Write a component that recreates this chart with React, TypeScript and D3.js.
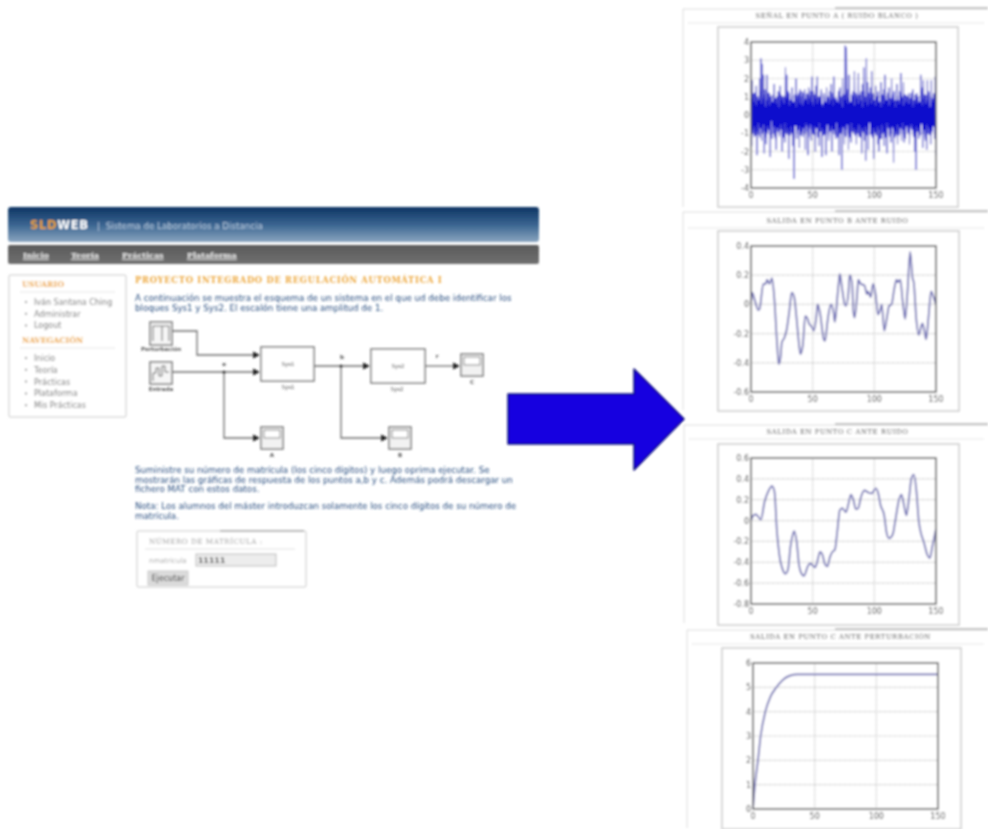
import React from "react";
import * as d3 from "d3";

const noiseA = [0.4,-1.7,1.9,-0.8,1.2,-1.2,0.6,-0.5,1.6,-2.2,0.9,0.2,-1.1,2.0,-0.6,3.1,-1.4,2.8,-0.9,2.2,-2.1,1.4,0.3,-1.6,2.2,-1.0,0.8,-0.3,1.2,-2.3,0.5,1.1,-1.3,0.7,-0.4,1.7,-1.2,0.9,-1.9,1.0,
-0.7,1.3,0.2,-1.2,1.6,-0.8,1.1,-2.0,0.6,-0.2,1.0,-1.5,2.6,-0.9,2.2,-1.1,0.4,-2.4,1.2,-0.5,0.8,-1.0,1.5,-1.7,0.3,-3.5,1.0,-0.6,2.0,-1.3,1.1,-0.4,0.6,-1.8,1.4,0.1,-0.9,1.3,-1.2,0.7,
-0.3,1.4,-1.9,0.9,-0.6,1.2,-2.2,1.5,-0.7,1.1,0.2,-1.4,2.1,-0.8,1.3,-1.1,0.5,-2.0,1.6,-0.4,2.1,-1.2,0.8,-1.7,1.0,-0.2,1.4,-2.3,0.6,-0.9,1.2,-1.1,0.7,-2.2,1.5,-0.5,1.0,-1.4,0.4,1.3,
-0.8,1.7,-2.0,0.9,-0.3,2.1,-1.0,0.6,-1.3,0.8,0.1,-1.1,1.2,-2.2,1.5,-0.6,0.9,-3.0,2.0,-0.7,1.1,-1.6,3.8,-1.2,3.7,-0.4,1.4,-1.9,2.2,-0.8,0.7,-1.5,1.0,-0.2,1.3,-1.0,2.4,-0.9,0.5,-1.6,
1.1,-0.5,2.3,-1.2,0.8,-0.6,1.3,-2.1,1.7,-0.4,2.6,-1.4,1.0,-2.5,3.1,-0.7,1.8,-1.9,0.6,-0.3,1.5,-1.1,2.4,-0.8,1.2,-2.4,0.5,-1.0,1.6,-0.4,0.9,-1.6,1.3,-2.0,0.7,-0.5,1.8,-1.3,1.0,-0.2,
1.4,-1.7,2.2,-0.9,0.6,-2.1,1.1,-0.6,1.5,-1.2,0.3,-1.5,2.0,-0.7,0.9,-2.6,1.2,-0.4,0.8,-1.1,1.7,-1.6,0.4,-1.0,1.3,-0.3,2.3,-1.4,1.0,-0.8,1.8,-1.5,0.6,-1.3,1.1,-0.2,0.7,-1.0,1.2,-1.6,
0.4,-0.7,1.0,-0.4,1.4,-1.2,0.6,-2.0,0.9,-3.0,1.2,-0.6,0.8,-1.3,0.3,-0.9,2.2,-0.5,1.5,-1.8,1.9,-0.7,0.5,-1.4,1.1,-1.9,1.9,-0.6,1.3,-1.1,0.2,-1.6,1.9,-0.8,0.9,-0.4,1.2,-1.3,2.1,-2.2];

const noiseCore = [0.9,-0.8,1.1,-1.0,0.7,-0.6,1.2,-1.1,0.5,-0.9,1.0,-0.4,0.8,-1.2,1.3,-0.7,0.6,-1.0,0.9,-0.5,1.1,-0.9,0.4,-1.2,0.8,-0.6,1.2,-0.8,0.5,-1.1,1.0,-0.3,0.7,-1.0,1.1,-0.6,0.9,-1.3,0.6,-0.7,
1.0,-0.9,0.4,-1.1,1.2,-0.5,0.8,-0.8,1.0,-1.2,0.6,-0.4,1.1,-1.0,0.9,-0.7,1.3,-0.9,0.5,-1.1,0.8,-0.6,1.0,-0.9,0.7,-1.2,1.1,-0.5,0.4,-1.0,0.9,-0.8,1.2,-0.6,0.6,-1.1,1.0,-0.9,0.5,-0.7,
1.2,-1.0,0.8,-0.4,1.1,-0.9,0.6,-1.2,0.9,-0.5,1.3,-0.8,0.7,-1.0,0.5,-0.6,1.1,-1.1,0.9,-0.7,0.6,-1.2,1.0,-0.4,0.8,-0.9,1.2,-0.7,0.4,-1.1,1.0,-0.8,0.7,-1.0,1.1,-0.5,0.9,-1.2,0.6,-0.9,
0.8,-0.6,1.2,-1.0,0.5,-0.8,1.0,-1.1,0.9,-0.4,0.7,-1.2,1.3,-0.7,0.6,-1.0,1.0,-0.9,0.4,-0.6,1.1,-1.1,0.8,-0.8,1.2,-0.5,0.6,-1.0,0.9,-1.2,0.7,-0.4,1.1,-0.9,1.0,-0.7,0.5,-1.1,1.2,-0.8,
0.9,-1.0,0.6,-0.5,1.1,-1.2,0.8,-0.7,0.4,-0.9,1.3,-1.0,0.7,-0.6,1.0,-1.1,0.5,-0.8,1.2,-0.4,0.9,-1.0,0.6,-1.2,1.1,-0.7,0.8,-0.9,0.5,-1.1,1.0,-0.6,1.2,-0.8,0.7,-1.3,0.4,-0.5,1.1,-1.0,
0.6,-0.9,1.0,-1.2,0.8,-0.4,1.2,-0.7,0.5,-1.1,0.9,-1.0,1.1,-0.6,0.7,-0.8,1.3,-1.2,0.4,-0.9,1.0,-0.5,0.8,-1.1,0.6,-0.7,1.2,-1.0,0.9,-0.4,0.5,-1.2,1.1,-0.8,0.7,-0.6,1.0,-0.9,0.6,-1.1,
0.9,-0.5,1.2,-0.8,0.4,-1.0,0.8,-1.2,1.1,-0.6,0.6,-0.9,1.0,-0.7,0.7,-1.1,1.3,-0.4,0.5,-1.0,0.9,-0.8,1.1,-1.2,0.6,-0.5,0.8,-1.0,1.2,-0.7,0.4,-1.1,1.0,-0.9,0.7,-0.6,1.1,-1.0,0.9,-0.8];

const tB = [0,1,3,6,7,10,12,13,15,17,19,21,22.5,24,25,27,29,31,33,35,37,39,40,42,44,46,47,49,51,53,54,56,59,60,62,63,65,67,68,70,71,72,74,76,77,79,80,82,83,84,86,87,89,92,94,95,97,99,101,103,105,106,108,110,112,114,116,118,119,121,123,125,127,129,131,132,134,136,138,139,141,142,144,146,148,150];
const vB = [0,0.08,0.03,-0.04,-0.03,0.14,0.14,0.17,0.14,0.18,0.03,-0.25,-0.41,-0.36,-0.26,-0.23,-0.17,-0.05,0.08,0.05,-0.1,-0.28,-0.34,-0.28,-0.08,-0.1,-0.13,-0.15,-0.18,-0.08,0,-0.06,-0.24,-0.25,-0.12,-0.06,0,-0.06,-0.12,0.05,0.14,0.21,0.1,0,-0.01,0.08,0.2,0.14,-0.05,-0.09,0.06,0.17,0.14,0.13,0.07,0.09,0.05,0.14,0.07,-0.07,-0.03,0,-0.18,-0.1,-0.01,0,0.1,0.17,0.15,0.17,0.02,-0.1,0.1,0.36,0.18,0.15,-0.1,-0.21,-0.15,-0.13,-0.2,-0.24,-0.08,0.09,0.05,0];

const tC = [0,2,4,8,11,14,17,19,21,23,26,28,30,32,34,35,37,39,41,43,46,48,50,52,54,56,58,60,62,64,66,68,70,72,74,77,79,81,83,85,87,89,92,95,98,101,103,105,108,110,112,115,117,120,122,124,126,128,130,132,134,136,138,140,143,145,147,150];
const vC = [0,0.05,0.06,0.01,0.18,0.28,0.33,0.28,-0.1,-0.33,-0.48,-0.51,-0.47,-0.25,-0.13,-0.1,-0.2,-0.43,-0.51,-0.53,-0.44,-0.41,-0.43,-0.45,-0.38,-0.3,-0.33,-0.42,-0.44,-0.35,-0.3,-0.28,-0.1,0.1,0.12,0.08,0.16,0.25,0.2,0.11,0.12,0.22,0.29,0.27,0.26,0.31,0.27,0.15,0.05,-0.12,-0.17,-0.13,0,0.2,0.25,0.15,0.05,0.2,0.4,0.44,0.3,0,-0.13,-0.2,-0.33,-0.36,-0.25,-0.08];

const tD = [0,1.6,4,6.2,10,14,19,24,30,36,50,100,150];
const vD = [0,1,2,3,4,4.6,5,5.3,5.48,5.53,5.53,5.53,5.53];

const xTicks = [0,50,100,150];
const ticksA = [-4,-3,-2,-1,0,1,2,3,4];
const ticksB = [-0.6,-0.4,-0.2,0,0.2,0.4];
const ticksC = [-0.8,-0.6,-0.4,-0.2,0,0.2,0.4,0.6];
const ticksD = [0,1,2,3,4,5,6];

const sideUser = ["Iván Santana Ching","Administrar","Logout"];
const sideNav = ["Inicio","Teoría","Prácticas","Plataforma","Mis Prácticas"];
const navItems: [string, number][] = [["Inicio",23],["Teoría",71],["Prácticas",122],["Plataforma",187]];
const para1 = ["A continuación se muestra el esquema de un sistema en el que ud debe identificar los","bloques Sys1 y Sys2. El escalón tiene una amplitud de 1."];
const para2 = ["Suministre su número de matrícula (los cinco dígitos) y luego oprima ejecutar. Se","mostrarán las gráficas de respuesta de los puntos a,b y c. Además podrá descargar un","fichero MAT con estos datos."];
const para3 = ["Nota: Los alumnos del máster introduzcan solamente los cinco dígitos de su número de","matrícula."];

const sans = "'DejaVu Sans', sans-serif";
const serif = "'DejaVu Serif', serif";
const textBlue = "#2b4f80";

function Plot({ box, plot, title, titleY, ys, core, ts, domain, ticks, color, width, frameX, frameY }: any) {
  const x = d3.scaleLinear().domain([0, 150]).range([plot[0], plot[1]]);
  const y = d3.scaleLinear().domain(domain).range([plot[3], plot[2]]);
  const mk = (n: number) => {
    const l = d3.line<number>().x((_, i) => x(ts ? ts[i] : (i * 150) / (n - 1))).y((d) => y(d));
    if (ts) l.curve(d3.curveMonotoneX);
    return l;
  };
  return (
    <g>
      <path d={`M${frameX} ${frameY + 198}V${frameY}H988`} fill="none" stroke="#dcdcdc" />
      <line x1={835} x2={988} y1={frameY - 1} y2={frameY - 1} stroke="#8c8c8c" />
      <line x1={frameX + 5} x2={984} y1={titleY + 8} y2={titleY + 8} stroke="#dcdcdc" strokeDasharray="2 1" />
      <text x={(box[0] + box[1]) / 2 - 1} y={titleY + 3} textAnchor="middle" fontFamily={serif} fontSize={6.8} letterSpacing={0.6} fill="#6c6c6c">{title}</text>
      <rect x={box[0]} y={box[2]} width={box[1] - box[0]} height={box[3] - box[2]} fill="#fff" stroke="#cccccc" strokeWidth={1.5} />
      {xTicks.map((t) => <line key={t} x1={x(t)} x2={x(t)} y1={plot[2]} y2={plot[3]} stroke="#c8c8c8" strokeWidth={1.2} strokeDasharray="1.5 1" />)}
      {ticks.map((t: number) => <line key={t} x1={plot[0]} x2={plot[1]} y1={y(t)} y2={y(t)} stroke="#c8c8c8" strokeWidth={1.2} strokeDasharray="1.5 1" />)}
      <path d={mk(ys.length)(ys) as string} fill="none" stroke={color} strokeWidth={width} strokeLinejoin="round" />
      {core && <path d={mk(core.length)(core) as string} fill="none" stroke="#0a0acc" strokeWidth={1.2} strokeLinejoin="round" />}
      <rect x={plot[0]} y={plot[2]} width={plot[1] - plot[0]} height={plot[3] - plot[2]} fill="none" stroke="#606060" strokeWidth={1.6} />
      {xTicks.map((t) => <text key={t} x={x(t)} y={plot[3] + 10} textAnchor="middle" fontFamily={sans} fontSize={8} fill="#444">{t}</text>)}
      {ticks.map((t: number) => <text key={t} x={plot[0] - 2} y={y(t) + 3} textAnchor="end" fontFamily={sans} fontSize={8} fill="#444">{t}</text>)}
    </g>
  );
}

function Scope({ x, y, label }: { x: number; y: number; label: string }) {
  return (
    <g>
      <rect x={x} y={y} width={22} height={22} fill="#f2f2f2" stroke="#7b7b7b" strokeWidth={1.5} />
      <rect x={x + 3} y={y + 3} width={16} height={8} fill="#fff" stroke="#8a8a8a" />
      <text x={x + 11} y={y + 30} textAnchor="middle" fontFamily={sans} fontSize={5.5} fontWeight="bold" fill="#555">{label}</text>
    </g>
  );
}

function Wire({ d, tip }: { d: string; tip: [number, number] }) {
  return (
    <g>
      <path d={d} fill="none" stroke="#6e6e6e" strokeWidth={1.3} />
      <path d={`M${tip[0]} ${tip[1]}l-7 -3.5v7z`} fill="#222" />
    </g>
  );
}

export default function App() {
  return (
    <svg width={988} height={829} style={{ position: "absolute", left: 0, top: 0, background: "#fff" }}>
      <defs>
        <filter id="soft" filterUnits="userSpaceOnUse" x="0" y="0" width="988" height="829"><feGaussianBlur stdDeviation={0.8} /></filter>
        <linearGradient id="hdr" x1="0" y1="0" x2="0" y2="1">
          <stop offset="0" stopColor="#0c3563" /><stop offset="0.5" stopColor="#3a6490" /><stop offset="1" stopColor="#8aa5bf" />
        </linearGradient>
        <linearGradient id="nav" x1="0" y1="0" x2="0" y2="1">
          <stop offset="0" stopColor="#5a5a5a" /><stop offset="1" stopColor="#707070" />
        </linearGradient>
      </defs>

      <g filter="url(#soft)">
        {/* header */}
        <rect x={8} y={207} width={531} height={35} rx={3} fill="url(#hdr)" />
        <text x={30} y={229} fontFamily={sans} fontSize={11.5} fontWeight="bold" letterSpacing={0.7}>
          <tspan fill="#e8a030">SLD</tspan><tspan fill="#fff">WEB</tspan>
        </text>
        <text x={97} y={229} fontFamily={sans} fontSize={8.7} fill="#b8cce0">| <tspan dx={3}>Sistema de Laboratorios a Distancia</tspan></text>
        <rect x={8} y={245} width={531} height={19} rx={2} fill="url(#nav)" />
        {navItems.map(([t, x]) => (
          <text key={t} x={x} y={258} fontFamily={serif} fontSize={8} fontWeight="bold" fill="#eee" textDecoration="underline">{t}</text>
        ))}

        {/* sidebar */}
        <rect x={9} y={275} width={117} height={142} rx={2} fill="#fff" stroke="#dcdcdc" strokeWidth={1.5} />
        <text x={22} y={287} fontFamily={serif} fontSize={7.8} fontWeight="bold" fill="#eda63a">USUARIO</text>
        <line x1={20} x2={115} y1={292} y2={292} stroke="#e6e6e6" />
        {sideUser.map((t, i) => (
          <g key={t}>
            <circle cx={26} cy={302 + i * 11.7} r={1} fill="#777" />
            <text x={34} y={305 + i * 11.7} fontFamily={sans} fontSize={8} fill="#777">{t}</text>
          </g>
        ))}
        <text x={22} y={343} fontFamily={serif} fontSize={7.8} fontWeight="bold" fill="#eda63a">NAVEGACIÓN</text>
        <line x1={20} x2={115} y1={348} y2={348} stroke="#e6e6e6" />
        {sideNav.map((t, i) => (
          <g key={t}>
            <circle cx={26} cy={358 + i * 11.8} r={1} fill="#777" />
            <text x={34} y={361 + i * 11.8} fontFamily={sans} fontSize={8} fill="#777">{t}</text>
          </g>
        ))}

        {/* main text */}
        <text x={135} y={283} fontFamily={serif} fontSize={8.3} fontWeight="bold" letterSpacing={0.75} fill="#eda63a">PROYECTO INTEGRADO DE REGULACIÓN AUTOMÁTICA I</text>
        {para1.map((t, i) => <text key={i} x={135} y={301 + i * 9.5} fontFamily={sans} fontSize={8.7} fill={textBlue}>{t}</text>)}
        {para2.map((t, i) => <text key={i} x={135} y={473 + i * 9.7} fontFamily={sans} fontSize={8.7} fill={textBlue}>{t}</text>)}
        {para3.map((t, i) => <text key={i} x={135} y={509 + i * 9.5} fontFamily={sans} fontSize={8.7} fill={textBlue}>{t}</text>)}

        {/* block diagram */}
        <rect x={150} y={322} width={22} height={23} fill="#f6f6f6" stroke="#777" strokeWidth={1.5} />
        <path d="M153 341V326H162V341M162 326H169V341" fill="none" stroke="#777" strokeWidth={1.1} />
        <text x={161} y={351} textAnchor="middle" fontFamily={sans} fontSize={5.5} fontWeight="bold" fill="#555">Perturbación</text>
        <rect x={150} y={362} width={22} height={22} fill="#f6f6f6" stroke="#777" strokeWidth={1.5} />
        <path d="M153 381V373H156V368H159V376H162V366H165V372H169" fill="none" stroke="#666" strokeWidth={1} />
        <text x={161} y={391} textAnchor="middle" fontFamily={sans} fontSize={5.5} fontWeight="bold" fill="#555">Entrada</text>
        <Wire d="M172 331H197V355H255" tip={[260, 355]} />
        <Wire d="M172 372H255" tip={[260, 372]} />
        <Wire d="M224 372V438H255" tip={[260, 438]} />
        <circle cx={224} cy={372} r={1.5} fill="#333" />
        <text x={224} y={366} textAnchor="middle" fontFamily={sans} fontSize={5.5} fontWeight="bold" fill="#444">e</text>
        <rect x={261} y={347} width={53} height={34} fill="#fff" stroke="#777" strokeWidth={1.5} />
        <text x={288} y={366} textAnchor="middle" fontFamily={sans} fontSize={5.5} fill="#444">Sys1</text>
        <text x={288} y={389} textAnchor="middle" fontFamily={sans} fontSize={5.5} fill="#555">Sys1</text>
        <Wire d="M314 366H365" tip={[370, 366]} />
        <Wire d="M341 366V438H383" tip={[388, 438]} />
        <circle cx={341} cy={366} r={1.5} fill="#333" />
        <text x={342} y={359} textAnchor="middle" fontFamily={sans} fontSize={5.5} fontWeight="bold" fill="#444">b</text>
        <rect x={371} y={349} width={54} height={34} fill="#fff" stroke="#777" strokeWidth={1.5} />
        <text x={398} y={368} textAnchor="middle" fontFamily={sans} fontSize={5.5} fill="#444">Sys2</text>
        <text x={397} y={391} textAnchor="middle" fontFamily={sans} fontSize={5.5} fill="#555">Sys2</text>
        <Wire d="M425 366H455" tip={[460, 366]} />
        <text x={437} y={358} textAnchor="middle" fontFamily={sans} fontSize={5.5} fontWeight="bold" fill="#444">r</text>
        <Scope x={461} y={354} label="C" />
        <Scope x={261} y={427} label="A" />
        <Scope x={389} y={427} label="B" />

        {/* form */}
        <rect x={137} y={531} width={169} height={56} rx={2} fill="#fff" stroke="#dcdcdc" strokeWidth={1.5} />
        <line x1={220} x2={304} y1={531} y2={531} stroke="#888" />
        <text x={149} y={544} fontFamily={serif} fontSize={7.2} letterSpacing={0.5} fill="#999">NÚMERO DE MATRÍCULA :</text>
        <line x1={145} x2={295} y1={549} y2={549} stroke="#e2e2e2" />
        <text x={149} y={563} fontFamily={sans} fontSize={7} fill="#aaa">nmatricula</text>
        <rect x={196} y={554} width={80} height={12} fill="#ededed" stroke="#bbb" />
        <text x={198} y={563} fontFamily={sans} fontSize={7.5} fontWeight="bold" letterSpacing={0.3} fill="#444">11111</text>
        <rect x={148} y={571} width={40} height={14} fill="#dcdcdc" stroke="#c8c8c8" />
        <text x={168} y={581} textAnchor="middle" fontFamily={sans} fontSize={8} fill="#333">Ejecutar</text>

        {/* arrow */}
        <path d="M508 394H634V369L684 419L634 470V444H508Z" fill="#1800e0" stroke="#0a0a7a" strokeWidth={1.5} strokeLinejoin="round" />

        {/* panels */}
        <Plot box={[718, 958, 27, 207]} plot={[751, 936, 42, 188]} title="SEÑAL EN PUNTO A ( RUIDO BLANCO )" titleY={15} ys={noiseA} core={noiseCore} domain={[-4, 4]} ticks={ticksA} color="#5050cc" width={1} frameX={683} frameY={9} />
        <Plot box={[718, 959, 231, 411]} plot={[751, 936, 246, 392]} title="SALIDA EN PUNTO B ANTE RUIDO" titleY={220} ts={tB} ys={vB} domain={[-0.6, 0.4]} ticks={ticksB} color="#6868b0" width={1.7} frameX={683} frameY={212} />
        <Plot box={[718, 959, 444, 625]} plot={[751, 936, 458, 604]} title="SALIDA EN PUNTO C ANTE RUIDO" titleY={431} ts={tC} ys={vC} domain={[-0.8, 0.6]} ticks={ticksC} color="#6868b0" width={1.7} frameX={684} frameY={425} />
        <Plot box={[722, 961, 648, 829]} plot={[753, 938, 663, 809]} title="SALIDA EN PUNTO C ANTE PERTURBACIÓN" titleY={636} ts={tD} ys={vD} domain={[0, 6]} ticks={ticksD} color="#6868b0" width={1.7} frameX={687} frameY={630} />
      </g>
    </svg>
  );
}
